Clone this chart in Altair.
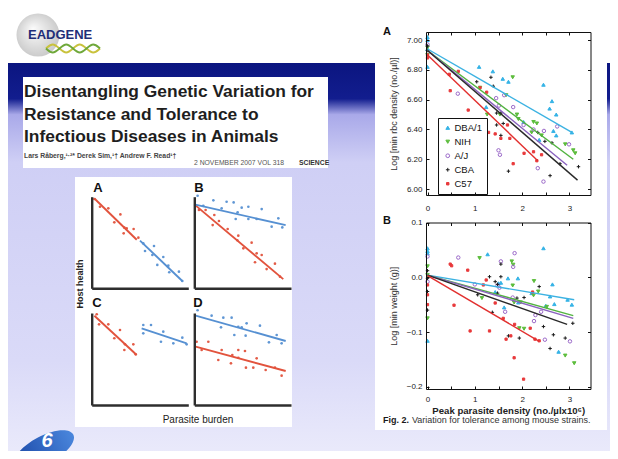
import altair as alt
import pandas as pd

W, H = 602, 443   # chart size; the page adds an 8px margin
M = 8             # reference pixel -> chart pixel shift

# ---------------- Fig. 2 data ----------------
strains = ["DBA/1", "NIH", "A/J", "CBA", "C57"]

# A: peak parasite density vs log min rbc density
rbc_dba_x = [0, 0, 0, 0, 1.09, 1.38, 1.59, 1.71, 2.45, 2.63, 2.58, 2.72, 1.24, 2.03, 2.66, 2.72, 2.36, 3.05]
rbc_dba_y = [7.02, 7.00, 6.94, 6.82, 6.82, 6.79, 6.74, 6.72, 6.70, 6.59, 6.54, 6.50, 6.55, 6.45, 6.39, 6.36, 6.33, 6.38]
rbc_nih_x = [0, 0, 1.80, 1.11, 1.66, 1.26, 1.89, 1.92, 2.24, 2.31, 2.20, 2.41, 2.91, 3.08, 3.12, 1.53]
rbc_nih_y = [6.95, 6.90, 6.75, 6.68, 6.63, 6.50, 6.50, 6.47, 6.45, 6.44, 6.38, 6.36, 6.30, 6.26, 6.24, 6.50]
rbc_aj_x = [0, 0.64, 1.45, 1.62, 1.81, 1.51, 2.03, 2.24, 2.46, 1.50, 2.33, 2.45, 2.99, 2.74, 1.53]
rbc_aj_y = [6.97, 6.64, 6.61, 6.63, 6.55, 6.56, 6.43, 6.40, 6.39, 6.26, 6.14, 6.05, 6.30, 6.42, 6.23]
rbc_cba_x = [0, 0, 1.04, 1.34, 1.39, 1.46, 1.55, 1.46, 1.55, 1.71, 2.33, 2.48, 2.63, 2.80, 3.19, 2.59, 1.60]
rbc_cba_y = [6.93, 6.96, 6.72, 6.75, 6.69, 6.51, 6.51, 6.43, 6.36, 6.12, 6.38, 6.32, 6.31, 6.17, 6.15, 6.09, 6.44]
rbc_c57_x = [0, 0, 0.46, 0.65, 0.48, 0.86, 1.25, 1.11, 1.29, 1.43, 1.55, 1.69, 1.74, 1.81, 2.04, 2.24, 2.41, 2.31]
rbc_c57_y = [6.90, 6.88, 6.77, 6.79, 6.66, 6.53, 6.65, 6.68, 6.38, 6.37, 6.34, 6.43, 6.34, 6.17, 6.24, 6.25, 6.23, 6.19]
rbc_fit_x0 = [0, 0, 0, 0, 0]
rbc_fit_y0 = [6.94, 6.93, 6.93, 6.93, 6.90]
rbc_fit_x1 = [3.05, 3.08, 2.95, 3.17, 2.33]
rbc_fit_y1 = [6.38, 6.20, 6.16, 6.06, 6.19]

# B: peak parasite density vs log min weight
wt_dba_x = [0, 0, 0, 0, 2.45, 1.27, 1.70, 1.91, 1.55, 1.50, 1.43, 1.92, 2.64, 2.68, 3.05, 2.50, 2.96, 1.62, 2.77, 2.59, 2.20]
wt_dba_y = [0.053, 0.048, 0.044, -0.116, 0.053, 0.042, -0.002, -0.002, -0.010, -0.011, -0.027, -0.046, -0.013,
            -0.049, -0.050, -0.052, -0.041, -0.055, -0.136, -0.035, -0.029]
wt_nih_x = [0, 0, 0, 1.10, 1.78, 1.81, 1.15, 1.80, 2.25, 2.24, 1.83, 1.94, 2.04, 2.52, 2.91, 3.10, 1.97, 2.34]
wt_nih_y = [0.020, 0.004, -0.075, 0.035, 0.029, 0.023, -0.038, -0.015, -0.007, -0.033, -0.046, -0.093, -0.094,
            -0.054, -0.143, -0.157, -0.046, -0.026]
wt_aj_x = [0, 0, 0.65, 1.55, 1.84, 1.81, 1.48, 1.52, 1.80, 1.64, 2.25, 2.28, 2.48, 3.01, 1.00, 2.40]
wt_aj_y = [0.038, -0.008, 0.036, 0.029, 0.044, 0.019, -0.015, -0.019, -0.037, -0.063, -0.080, -0.069, -0.114,
           -0.117, -0.013, -0.063]
wt_cba_x = [0, 0, 0, 0, 1.55, 1.31, 1.55, 1.48, 1.43, 1.06, 1.48, 1.37, 1.71, 1.94, 1.89, 2.36, 2.04, 2.45, 2.66,
            2.59, 2.91, 3.07]
wt_cba_y = [0.012, -0.002, -0.026, -0.060, 0.024, 0.001, 0.001, -0.013, -0.008, -0.032, -0.029, -0.064, -0.107,
            -0.111, -0.038, -0.017, -0.037, -0.090, -0.105, -0.130, -0.111, -0.084]
wt_c57_x = [0, 0, 0, 0.48, 0.51, 0.85, 0.56, 1.24, 1.18, 0.90, 1.31, 1.43, 1.60, 1.84, 1.66, 1.76, 1.83, 2.03,
            2.17, 2.27, 2.36, 2.22]
wt_c57_y = [-0.014, -0.032, -0.050, 0.024, 0.021, 0.013, -0.051, -0.005, -0.014, -0.098, -0.098, -0.047, -0.075,
            -0.086, -0.113, -0.107, -0.147, -0.186, -0.093, -0.113, -0.116, -0.027]
wt_fit_x0 = [0, 0, 0, 0, 0]
wt_fit_y0 = [0.004, 0.004, 0.004, 0.004, 0.003]
wt_fit_x1 = [3.10, 3.08, 3.08, 2.95, 2.36]
wt_fit_y1 = [-0.041, -0.070, -0.075, -0.086, -0.117]

# ---------------- schematic panels (parasite burden vs host health) ----------------
sA_red_x = [0.28, 0.86, 1.72, 2.34, 2.97, 3.38, 3.62, 4.34, 3.31, 4.83]
sA_red_y = [9.75, 8.9, 8.73, 7.2, 8.07, 6.62, 6.55, 6.47, 6.0, 5.53]
sA_blue_x = [5.34, 5.52, 6.45, 6.28, 7.41, 6.79, 7.93, 8.03, 9.03, 9.38]
sA_blue_y = [4.9, 4.07, 4.62, 3.64, 3.42, 2.55, 2.47, 1.75, 1.82, 0.8]
sA_red_fit_x, sA_red_fit_y = [0.28, 4.66], [9.8, 5.3]
sA_blue_fit_x, sA_blue_fit_y = [5.0, 9.38], [5.2, 0.8]

sB_red_x = [0.48, 1.17, 2.07, 1.9, 2.55, 3.45, 4.55, 4.45, 5.93, 5.07, 6.45, 6.97, 6.28, 7.48, 8.34, 8.86]
sB_red_y = [8.55, 8.55, 8.0, 6.9, 7.35, 6.47, 5.75, 5.24, 4.98, 4.36, 3.82, 3.64, 2.84, 2.1, 2.69, 1.27]
sB_blue_x = [0.34, 1.97, 3.34, 4.07, 0.93, 2.83, 4.9, 5.59, 6.97, 4.28, 5.59, 6.45, 8.0, 8.69, 9.1, 4.48]
sB_blue_y = [10.1, 9.6, 9.45, 9.38, 9.0, 8.73, 8.8, 8.9, 8.65, 7.56, 7.56, 7.56, 6.73, 7.64, 6.65, 8.29]
sB_red_fit_x, sB_red_fit_y = [0, 9.2], [9.16, 1.0]
sB_blue_fit_x, sB_blue_fit_y = [0, 9.45], [9.16, 6.9]

sC_red_x = [0.52, 0.76, 1.72, 2.34, 2.93, 3.45, 4.31, 3.38, 4.55]
sC_red_y = [9.86, 8.77, 8.77, 7.25, 8.15, 6.59, 6.59, 5.98, 5.51]
sC_blue_x = [5.34, 6.14, 5.34, 7.41, 7.17, 8.45, 9.38, 9.83]
sC_blue_y = [8.7, 8.7, 7.79, 7.97, 6.88, 6.7, 7.32, 6.59]
sC_red_fit_x, sC_red_fit_y = [0.28, 4.66], [9.7, 5.43]
sC_blue_fit_x, sC_blue_fit_y = [5.17, 9.83], [8.33, 6.7]

sD_red_x = [0.24, 0.76, 1.45, 2.48, 2.83, 3.79, 3.93, 4.55, 4.55, 5.24, 5.34, 6.1, 6.45, 7.38, 8.34, 9.03]
sD_red_y = [6.88, 5.98, 6.88, 4.89, 5.98, 4.53, 5.43, 5.98, 5.14, 5.87, 4.06, 4.06, 5.07, 3.8, 4.06, 3.19]
sD_blue_x = [0.34, 1.79, 3.0, 3.86, 2.76, 4.55, 4.9, 5.41, 4.14, 5.31, 6.79, 7.72, 8.52, 9.03]
sD_blue_y = [10.3, 9.71, 9.49, 9.49, 8.44, 8.51, 8.44, 8.88, 7.61, 7.54, 8.62, 6.81, 7.61, 6.7]
sD_red_fit_x, sD_red_fit_y = [0.14, 9.45], [6.34, 3.7]
sD_blue_fit_x, sD_blue_fit_y = [0.14, 9.45], [9.71, 6.96]

# decorative helix of the logo (two strands)
helix_t = [0, 1.25, 2.5, 3.75, 5, 6.25, 7.5, 8.75, 10]
helix_a = [5, 9, 5, 1, 5, 9, 5, 1, 5]
helix_b = [5, 1, 5, 9, 5, 1, 5, 9, 5]

# ---------------- styles ----------------
FONT = "Liberation Sans, Arial, Helvetica, sans-serif"
C_DBA, C_NIH, C_AJ, C_CBA, C_C57 = "#35b3e6", "#5cbd3c", "#9b69c9", "#1b1b1b", "#e8393b"
stroke_rng = [C_DBA, C_NIH, C_AJ, C_CBA, C_C57]
fill_rng = [C_DBA, C_NIH, "transparent", C_CBA, C_C57]
shape_rng = ["triangle-up", "triangle-down", "circle", "M-1,0L1,0M0,-1L0,1",
             "M-0.65,-0.65L0.65,-0.65L0.65,0.65L-0.65,0.65Z"]
line_rng = ["#3cb2e2", "#52b340", "#8a62bf", "#2a2a2a", "#e2302f"]
S_RED, S_BLUE = "#e2533d", "#5690d2"

one = pd.DataFrame({"k": [0]})


def deco_rect(x1, y1, x2, y2, **mk):
    return alt.Chart(one).mark_rect(**mk).encode(
        x=alt.value(x1 - M), x2=alt.value(x2 - M), y=alt.value(y1 - M), y2=alt.value(y2 - M))


def deco_text(x, y, txt, **mk):
    return alt.Chart(one).mark_text(text=txt, **mk).encode(x=alt.value(x - M), y=alt.value(y - M))


def lin(dom, r0, r1):
    return alt.Scale(domain=dom, range=[r0 - M, r1 - M], nice=False, zero=False)


AXBASE = dict(grid=False, title=None, labels=False, ticks=False, domain=False, labelFlush=False,
              labelOverlap=False, domainColor="#111111", tickColor="#111111", domainWidth=1, tickWidth=1,
              tickSize=3, labelFont=FONT, labelFontSize=8, labelColor="#222222", zindex=1)


def ax(orient, pos_ref, **kw):
    p = pos_ref - M
    off = {"bottom": p - H, "top": -p, "left": -p, "right": p - W}[orient]
    d = dict(AXBASE)
    d.update(kw)
    return alt.Axis(orient=orient, offset=off, **d)


def long_df(xs, ys):
    rows = []
    for name, xv, yv in zip(strains, xs, ys):
        for a, b in zip(xv, yv):
            rows.append({"g": name, "x": a, "y": b})
    return pd.DataFrame(rows)


def fit_df(x0, y0, x1, y1):
    rows = []
    for i, name in enumerate(strains):
        rows.append({"g": name, "x": x0[i], "y": y0[i]})
        rows.append({"g": name, "x": x1[i], "y": y1[i]})
    return pd.DataFrame(rows)


# geometry of Fig. 2 panels in reference pixels
XR_REF = (426.0, 590.5)
X_DOM = [-0.032, 3.444]
A_YREF, A_DOM = (195.0, 32.0), [5.960, 7.054]
B_YREF, B_DOM = (389.0, 222.5), [-0.204, 0.100]


def fig2_panel(pts, fits, ydom, yref, ylab_vals, ytick_vals, yfmt, ytitle, xtitle, xlabpad, legend):
    xs, ys = lin(X_DOM, *XR_REF), lin(ydom, *yref)
    ybot, ytop = yref
    xl, xr = XR_REF
    xticks = [0, 0.5, 1, 1.5, 2, 2.5, 3]
    x_lab = ax("bottom", ybot, labels=True, values=[0, 1, 2, 3], labelPadding=xlabpad,
               title=xtitle, titleFont=FONT, titleFontSize=9.6, titleFontWeight="bold",
               titleColor="#222222", titlePadding=2)
    y_lab = ax("left", xl, labels=True, values=ylab_vals, format=yfmt, labelPadding=4,
               title=ytitle, titleFont=FONT, titleFontSize=9, titleFontWeight="normal",
               titleColor="#333333", titlePadding=8)
    x_bot = ax("top", ybot, ticks=True, domain=True, values=xticks)
    y_left = ax("right", xl, ticks=True, domain=True, values=ytick_vals)
    x_top = ax("bottom", ytop, ticks=True, domain=True, values=xticks)
    y_right = ax("left", xr, ticks=True, domain=True, values=ytick_vals)

    def enc(xa, ya):
        return dict(x=alt.X("x:Q", scale=xs, axis=xa), y=alt.Y("y:Q", scale=ys, axis=ya))

    pts_layer = alt.Chart(pts).mark_point(size=12, strokeWidth=1, opacity=1).encode(
        **enc(x_lab, y_lab),
        stroke=alt.Stroke("g:N", scale=alt.Scale(domain=strains, range=stroke_rng), legend=legend),
        fill=alt.Fill("g:N", scale=alt.Scale(domain=strains, range=fill_rng), legend=legend),
        shape=alt.Shape("g:N", scale=alt.Scale(domain=strains, range=shape_rng), legend=legend),
    )
    fit_layer = alt.Chart(fits).mark_line(strokeWidth=1.4).encode(
        **enc(x_bot, y_left),
        color=alt.Color("g:N", scale=alt.Scale(domain=strains, range=line_rng), legend=None),
        detail="g:N",
    )
    frame_layer = alt.Chart(pts).mark_point(opacity=0).encode(**enc(x_top, y_right))
    return [pts_layer, fit_layer, frame_layer]


def schematic(rx, ry, bx, by, rfx, rfy, bfx, bfy, xref, yref):
    pts = pd.DataFrame({"g": ["red"] * len(rx) + ["blue"] * len(bx), "x": rx + bx, "y": ry + by})
    fit = pd.DataFrame({"g": ["red", "red", "blue", "blue"], "x": rfx + bfx, "y": rfy + bfy})
    xs, ys = lin([0, 10], *xref), lin([0, 10], *yref)
    col = alt.Color("g:N", scale=alt.Scale(domain=["red", "blue"], range=[S_RED, S_BLUE]), legend=None)
    xa = ax("bottom", yref[0], domain=True, domainWidth=2.4, domainColor="#2e2e2e")
    ya = ax("left", xref[0], domain=True, domainWidth=2.4, domainColor="#2e2e2e")
    p = alt.Chart(pts).mark_circle(size=7, opacity=0.95).encode(
        x=alt.X("x:Q", scale=xs, axis=xa), y=alt.Y("y:Q", scale=ys, axis=ya), color=col)
    ln = alt.Chart(fit).mark_line(strokeWidth=1.9).encode(
        x=alt.X("x:Q", scale=xs, axis=None), y=alt.Y("y:Q", scale=ys, axis=None), color=col, detail="g:N")
    return [p, ln]


layers = []

# ---------------- slide background ----------------
band = alt.LinearGradient(
    gradient="linear", x1=0, x2=0, y1=0, y2=1,
    stops=[alt.GradientStop(color="#0b1580", offset=0),
           alt.GradientStop(color="#121d8e", offset=0.09),
           alt.GradientStop(color="#a9a9e9", offset=0.13),
           alt.GradientStop(color="#cfcff5", offset=0.25),
           alt.GradientStop(color="#dadaf8", offset=0.75),
           alt.GradientStop(color="#ebebfb", offset=1)])
layers.append(deco_rect(0, 63, 620, 460, color=band))
layers.append(deco_rect(23, 77, 328, 168, color="white"))
layers.append(deco_rect(75, 177, 292, 427, color="white"))
layers.append(deco_rect(375, 20, 607, 430, color="white"))

# EADGENE logo
sphere = alt.RadialGradient(
    gradient="radial", x1=0.38, y1=0.35, r1=0.0, x2=0.5, y2=0.5, r2=0.6,
    stops=[alt.GradientStop(color="#fbfbfb", offset=0), alt.GradientStop(color="#c4c4c4", offset=1)])
layers.append(alt.Chart(one).mark_point(shape="circle", size=1850, filled=True, fill=sphere,
                                        strokeWidth=0, opacity=1).encode(x=alt.value(38 - M), y=alt.value(35 - M)))
helix = pd.DataFrame({"t": helix_t * 2, "v": helix_a + helix_b, "s": ["a"] * 9 + ["b"] * 9})
layers.append(alt.Chart(helix).mark_line(interpolate="basis", strokeWidth=2).encode(
    x=alt.X("t:Q", scale=lin([0, 10], 46, 100), axis=None),
    y=alt.Y("v:Q", scale=lin([0, 10], 56, 41), axis=None),
    color=alt.Color("s:N", scale=alt.Scale(domain=["a", "b"], range=["#c9c23c", "#6fa83a"]), legend=None)))
layers.append(deco_text(28, 39, "EADGENE", font=FONT, fontSize=13, fontWeight="bold", color="#1f2e78",
                        align="left", baseline="alphabetic"))

# FP6 logo (bottom left)
fp6 = alt.LinearGradient(gradient="linear", x1=0, x2=1, y1=0, y2=0,
                         stops=[alt.GradientStop(color="#1a47a6", offset=0),
                                alt.GradientStop(color="#4a86dc", offset=1)])
layers.append(alt.Chart(one).mark_point(shape="M-1,0A1,0.42,0,1,0,1,0A1,0.42,0,1,0,-1,0Z", size=4400,
                                        filled=True, fill=fp6, strokeWidth=0, opacity=1, angle=332).encode(
    x=alt.value(44 - M), y=alt.value(450 - M)))
layers.append(deco_text(47, 441, "6", font=FONT, fontSize=20, fontWeight="bold", fontStyle="italic",
                        color="white", align="center", baseline="middle"))

# paper title
for ytxt, txt in [(97, "Disentangling Genetic Variation for"), (120, "Resistance and Tolerance to"),
                  (142, "Infectious Diseases in Animals")]:
    layers.append(deco_text(24, ytxt, txt, font=FONT, fontSize=17.4, fontWeight="bold", color="#1e1e1e",
                            align="left", baseline="alphabetic"))
layers.append(deco_text(24, 158, "Lars Råberg,¹·²* Derek Sim,¹† Andrew F. Read¹†", font=FONT, fontSize=6.8,
                        fontWeight="bold", color="#444444", align="left", baseline="alphabetic"))
layers.append(deco_text(194, 165, "2 NOVEMBER 2007   VOL 318", font=FONT, fontSize=6.8, color="#555555",
                        align="left", baseline="alphabetic"))
layers.append(deco_text(299, 165, "SCIENCE", font=FONT, fontSize=6.8, fontWeight="bold", color="#333333",
                        align="left", baseline="alphabetic"))

# ---------------- schematic 2x2 figure ----------------
layers += schematic(sA_red_x, sA_red_y, sA_blue_x, sA_blue_y, sA_red_fit_x, sA_red_fit_y,
                    sA_blue_fit_x, sA_blue_fit_y, (91.7, 188.3), (288.3, 196.7))
layers += schematic(sB_red_x, sB_red_y, sB_blue_x, sB_blue_y, sB_red_fit_x, sB_red_fit_y,
                    sB_blue_fit_x, sB_blue_fit_y, (194.3, 291.0), (288.3, 196.7))
layers += schematic(sC_red_x, sC_red_y, sC_blue_x, sC_blue_y, sC_red_fit_x, sC_red_fit_y,
                    sC_blue_fit_x, sC_blue_fit_y, (91.7, 188.3), (405.0, 313.0))
layers += schematic(sD_red_x, sD_red_y, sD_blue_x, sD_blue_y, sD_red_fit_x, sD_red_fit_y,
                    sD_blue_fit_x, sD_blue_fit_y, (194.3, 291.0), (405.0, 313.0))
for (lx, ly, t) in [(98, 188, "A"), (199, 188, "B"), (97, 303, "C"), (198, 303, "D")]:
    layers.append(deco_text(lx, ly, t, font=FONT, fontSize=13, fontWeight="bold", color="#111111"))
layers.append(deco_text(80, 284, "Host health", font=FONT, fontSize=9, fontWeight="bold", color="#222222",
                        angle=270))
layers.append(deco_text(198, 420, "Parasite burden", font=FONT, fontSize=10, color="#222222"))

# ---------------- Fig. 2 ----------------
rbc_pts = long_df([rbc_dba_x, rbc_nih_x, rbc_aj_x, rbc_cba_x, rbc_c57_x],
                  [rbc_dba_y, rbc_nih_y, rbc_aj_y, rbc_cba_y, rbc_c57_y])
rbc_fit = fit_df(rbc_fit_x0, rbc_fit_y0, rbc_fit_x1, rbc_fit_y1)
wt_pts = long_df([wt_dba_x, wt_nih_x, wt_aj_x, wt_cba_x, wt_c57_x],
                 [wt_dba_y, wt_nih_y, wt_aj_y, wt_cba_y, wt_c57_y])
wt_fit = fit_df(wt_fit_x0, wt_fit_y0, wt_fit_x1, wt_fit_y1)

leg = alt.Legend(title=None, orient="none", legendX=438 - M, legendY=118 - M, strokeColor="#111111",
                 fillColor="white", padding=5, labelFont=FONT, labelFontSize=9.5, labelColor="#111111",
                 rowPadding=3, symbolSize=14, symbolStrokeWidth=1, labelOffset=2)
layers += fig2_panel(rbc_pts, rbc_fit, A_DOM, A_YREF, [6.0, 6.2, 6.4, 6.6, 6.8, 7.0],
                     [6.0, 6.2, 6.4, 6.6, 6.8, 7.0], ".2f", "Log [min rbc density (no./µl)]", None, 9, leg)
layers += fig2_panel(wt_pts, wt_fit, B_DOM, B_YREF, [-0.2, -0.1, 0.0, 0.1], [-0.2, -0.1, 0.0, 0.1], ".1f",
                     "Log [min weight (g)]", "Peak parasite density (no./µlx10⁶)", 6, None)
layers.append(deco_text(387, 32, "A", font=FONT, fontSize=11, fontWeight="bold", color="#111111"))
layers.append(deco_text(387, 221, "B", font=FONT, fontSize=11, fontWeight="bold", color="#111111"))
layers.append(deco_text(383, 423, "Fig. 2.", font=FONT, fontSize=9, fontWeight="bold", color="#1a1a1a",
                        align="left", baseline="alphabetic"))
layers.append(deco_text(412, 423, "Variation for tolerance among mouse strains.", font=FONT, fontSize=9,
                        color="#333333", align="left", baseline="alphabetic"))

chans = dict(x="independent", y="independent", color="independent", fill="independent",
             stroke="independent", shape="independent")
chart = (alt.layer(*layers)
         .resolve_scale(**chans)
         .resolve_axis(x="independent", y="independent")
         .resolve_legend(color="independent", fill="independent", stroke="independent", shape="independent")
         .properties(width=W, height=H, padding=0, background="white",
                     autosize=alt.AutoSizeParams(type="none"))
         .configure_view(stroke=None))

chart.save("out.html", embed_options={"renderer": "svg", "actions": False})
